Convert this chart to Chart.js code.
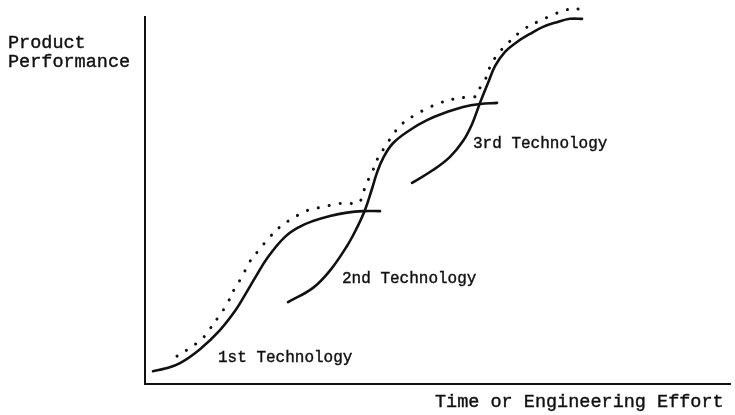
<!DOCTYPE html>
<html>
<head>
<meta charset="utf-8">
<script src="https://cdn.jsdelivr.net/npm/chart.js@4/dist/chart.umd.min.js"></script>
<style>
html,body{margin:0;padding:0;background:#fff;}
#c{display:block;}
</style>
</head>
<body>
<canvas id="c" width="735" height="415"></canvas>
<script>
// Effort (x) and performance (y) in arbitrary units
const tech1X = [1.6, 4.0, 7.0, 11.0, 15.0, 18.0, 20.0, 22.0, 24.6, 28.0, 31.0, 33.6, 37.0, 40.4, 43.6, 47.0];
const tech1Y = [3.5, 4.2, 5.7, 9.5, 14.7, 19.9, 24.3, 28.9, 34.6, 40.1, 42.9, 44.4, 45.8, 46.7, 47.1, 47.1];

const tech2X = [28.6, 33.6, 37.0, 40.4, 42.4, 44.0, 45.4, 46.4, 47.6, 49.6, 53.0, 56.4, 60.4, 63.6, 67.0, 70.4];
const tech2Y = [22.3, 26.2, 30.9, 37.6, 42.6, 47.4, 53.2, 57.6, 61.5, 65.6, 69.2, 71.9, 74.1, 75.5, 76.3, 76.6];

const tech3X = [53.4, 57.6, 61.0, 63.6, 65.4, 67.0, 68.6, 70.0, 72.0, 74.4, 77.0, 79.6, 82.4, 85.0, 87.4];
const tech3Y = [54.8, 58.3, 61.9, 66.2, 70.8, 76.6, 82.0, 86.6, 90.5, 93.2, 95.4, 97.3, 98.6, 99.5, 99.5];

const envelopeX = [6.4, 8.4, 11.4, 12.8, 14.8, 16.4, 18.0, 19.4, 20.8, 22.6, 25.0, 27.0, 29.0, 31.4, 33.4, 35.6, 38.0, 40.4, 42.6, 43.6, 44.0, 45.6, 46.6, 48.0, 50.0, 51.6, 54.0, 56.6, 59.0, 61.6, 64.4, 66.4, 67.0, 68.0, 69.0, 70.4, 72.6, 75.6, 78.4, 82.0, 84.0, 87.0];
const envelopeY = [7.6, 9.3, 12.3, 14.7, 18.5, 21.8, 26.2, 29.2, 33.0, 36.2, 40.1, 42.8, 44.7, 46.6, 47.7, 48.2, 49.0, 49.3, 49.3, 51.5, 53.7, 58.3, 61.6, 64.6, 68.7, 71.1, 73.3, 75.2, 76.6, 77.6, 78.2, 78.5, 80.7, 82.8, 86.4, 89.6, 92.9, 96.5, 98.6, 100.8, 101.9, 102.2];

const seriesLabels = ['1st Technology', '2nd Technology', '3rd Technology'];
const yAxisTitle = ['Product', 'Performance'];
const xAxisTitle = 'Time or Engineering Effort';

// label anchors (data units) for the curve annotations
const labelAnchors = [
  {x: 14.6, y: 6.0},
  {x: 39.4, y: 27.5},
  {x: 65.6, y: 64.3}
];

const pts = (xs, ys) => xs.map((x, i) => ({x: x, y: ys[i]}));
const INK = '#111';

const solid = (label, xs, ys) => ({
  label: label,
  data: pts(xs, ys),
  borderColor: INK,
  borderWidth: 2.6,
  pointRadius: 0,
  fill: false,
  tension: 0.4,
  borderCapStyle: 'round',
  borderJoinStyle: 'round',
  clip: false
});

const textPlugin = {
  id: 'texts',
  afterDatasetsDraw(chart) {
    const ctx = chart.ctx;
    const xs = chart.scales.x, ys = chart.scales.y;
    ctx.save();
    ctx.fillStyle = INK;
    ctx.strokeStyle = INK;
    ctx.lineWidth = 0.4;
    ctx.textBaseline = 'alphabetic';
    ctx.textAlign = 'left';
    const put = (t, x, y) => { ctx.fillText(t, x, y); ctx.strokeText(t, x, y); };
    ctx.font = '18.5px "Liberation Mono", "DejaVu Sans Mono", monospace';
    put(yAxisTitle[0], 8, 48);
    put(yAxisTitle[1], 8, 67);
    put(xAxisTitle, 435, 407);
    ctx.font = '16px "Liberation Mono", "DejaVu Sans Mono", monospace';
    labelAnchors.forEach((a, i) => {
      put(seriesLabels[i], xs.getPixelForValue(a.x), ys.getPixelForValue(a.y));
    });
    ctx.restore();
  }
};

new Chart(document.getElementById('c'), {
  type: 'line',
  data: {
    datasets: [
      solid(seriesLabels[0], tech1X, tech1Y),
      solid(seriesLabels[1], tech2X, tech2Y),
      solid(seriesLabels[2], tech3X, tech3Y),
      {
        label: 'Envelope',
        data: pts(envelopeX, envelopeY),
        borderColor: INK,
        borderWidth: 3,
        borderDash: [0.1, 11],
        borderCapStyle: 'round',
        pointRadius: 0,
        fill: false,
        tension: 0.4,
        clip: false
      }
    ]
  },
  options: {
    responsive: false,
    animation: false,
    layout: {padding: {left: 145, top: 17, right: 5, bottom: 31}},
    scales: {
      x: {
        type: 'linear', min: 0, max: 117,
        ticks: {display: false},
        grid: {display: false, drawTicks: false},
        border: {display: true, color: INK, width: 2}
      },
      y: {
        type: 'linear', min: 0, max: 100,
        ticks: {display: false},
        grid: {display: false, drawTicks: false},
        border: {display: true, color: INK, width: 2}
      }
    },
    plugins: {legend: {display: false}, tooltip: {enabled: false}}
  },
  plugins: [textPlugin]
});
</script>
</body>
</html>
